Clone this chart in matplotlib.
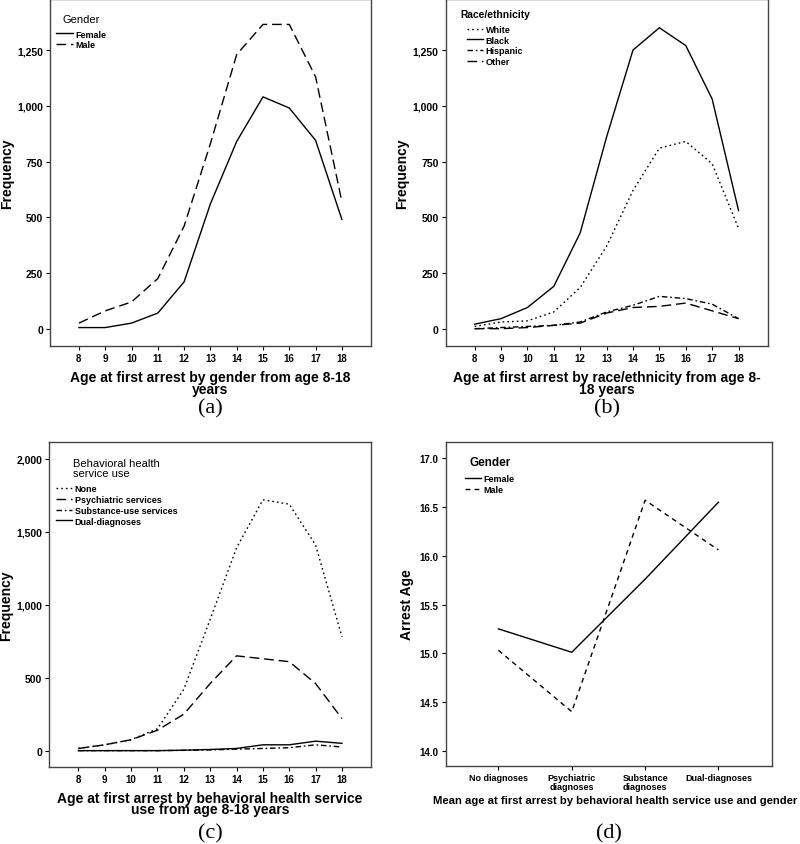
import numpy as np
import matplotlib.pyplot as plt
from matplotlib.ticker import FuncFormatter

# ---------------- DATA ----------------

ages = [8, 9, 10, 11, 12, 13, 14, 15, 16, 17, 18]

female = [5, 5, 25, 70, 210, 560, 840, 1040, 990, 845, 490]
male = [25, 80, 120, 225, 460, 830, 1230, 1365, 1365, 1130, 570]

white = [10, 30, 35, 75, 185, 370, 620, 810, 840, 740, 450]
black = [20, 45, 95, 190, 430, 860, 1250, 1350, 1270, 1030, 530]
hispanic = [0, 5, 10, 15, 30, 75, 105, 145, 135, 110, 45]
other = [0, 0, 5, 15, 25, 70, 95, 100, 115, 80, 45]

none_use = [15, 40, 75, 150, 420, 900, 1390, 1720, 1690, 1410, 780]
psych = [15, 40, 75, 140, 250, 460, 650, 630, 610, 460, 220]
substance = [0, 0, 0, 0, 2, 5, 10, 15, 20, 40, 25]
dual = [0, 0, 0, 0, 3, 8, 15, 40, 40, 65, 50]

diag_groups = ["No diagnoses", "Psychiatric\ndiagnoses", "Substance\ndiagnoses", "Dual-diagnoses"]
mean_female = [15.25, 15.01, 15.76, 16.55]
mean_male = [15.03, 14.40, 16.57, 16.06]

# ---------------- STYLE ----------------

plt.rcParams["font.family"] = ["Liberation Sans", "DejaVu Sans"]

DOT = (0, (1.2, 2.2))
DASH = (0, (7, 3.5))
DASHDOT = (0, (4, 2, 1.2, 2))
LW = 1.0

fig = plt.figure(figsize=(8, 8.45), dpi=100)

ax_a = fig.add_axes([0.0625, 0.589, 0.401, 0.411])
ax_b = fig.add_axes([0.557, 0.589, 0.4025, 0.411])
ax_c = fig.add_axes([0.0617, 0.0915, 0.402, 0.384])
ax_d = fig.add_axes([0.557, 0.092, 0.408, 0.384])

thousands = FuncFormatter(lambda v, p: f"{int(v):,}")


def style_axis(ax):
    for s in ax.spines.values():
        s.set_linewidth(1.0)
        s.set_color("#444444")
    ax.tick_params(axis="both", direction="out", length=3, width=0.8,
                   labelsize=7, pad=2)
    for lab in ax.get_xticklabels() + ax.get_yticklabels():
        lab.set_fontweight("bold")


def age_axis(ax, ymin, ymax, yticks):
    ax.set_xlim(6.9, 19.1)
    ax.set_ylim(ymin, ymax)
    ax.set_xticks(ages)
    ax.set_yticks(yticks)
    ax.yaxis.set_major_formatter(thousands)
    ax.set_ylabel("Frequency", fontsize=10, fontweight="bold")
    # keep the label clear of the figure edge (centre about 7 px in)
    width_px = ax.get_position().width * 800
    ax.yaxis.set_label_coords(-36 / width_px, 0.5)
    style_axis(ax)
    ax.tick_params(axis="y", labelsize=7.5)


def legend(ax, title, bold_title, anchor, title_fs=8, sep=4.3, fs=6.5):
    lg = ax.legend(loc="upper left", bbox_to_anchor=anchor, frameon=False,
                   title=title, fontsize=fs, handlelength=1.8,
                   handletextpad=0.3, labelspacing=0.2, borderpad=0.2,
                   alignment="center")
    lg.get_title().set_fontsize(title_fs)
    lg.get_title().set_linespacing(1.0)
    if bold_title:
        lg.get_title().set_fontweight("bold")
    for t in lg.get_texts():
        t.set_fontweight("bold")
    lg._legend_box.sep = sep
    return lg


# ---------------- (a) ----------------

ax_a.plot(ages, female, color="black", lw=LW, ls="-", label="Female")
ax_a.plot(ages, male, color="black", lw=LW, ls=DASH, label="Male")
age_axis(ax_a, -79, 1479, [0, 250, 500, 750, 1000, 1250])
legend(ax_a, "Gender", False, (0.0, 0.976))
ax_a.set_xlabel("Age at first arrest by gender from age 8-18\nyears",
                fontsize=10, fontweight="bold", linespacing=0.78, labelpad=5)

# ---------------- (b) ----------------

ax_b.plot(ages, white, color="black", lw=LW, ls=DOT, label="White")
ax_b.plot(ages, black, color="black", lw=LW, ls="-", label="Black")
ax_b.plot(ages, hispanic, color="black", lw=LW, ls=DASHDOT, label="Hispanic")
ax_b.plot(ages, other, color="black", lw=LW, ls=DASH, label="Other")
age_axis(ax_b, -79, 1479, [0, 250, 500, 750, 1000, 1250])
legend(ax_b, "Race/ethnicity", True, (0.0255, 0.989), title_fs=7.4, sep=4.0)
ax_b.set_xlabel("Age at first arrest by race/ethnicity from age 8-\n18 years",
                fontsize=10, fontweight="bold", linespacing=0.78, labelpad=5)

# ---------------- (c) ----------------

ax_c.plot(ages, none_use, color="black", lw=LW, ls=DOT, label="None")
ax_c.plot(ages, psych, color="black", lw=LW, ls=DASH, label="Psychiatric services")
ax_c.plot(ages, substance, color="black", lw=LW, ls=DASHDOT, label="Substance-use services")
ax_c.plot(ages, dual, color="black", lw=LW, ls="-", label="Dual-diagnoses")
age_axis(ax_c, -110, 2115, [0, 500, 1000, 1500, 2000])
legend(ax_c, "Behavioral health\nservice use", False, (0.0, 0.97))
ax_c.set_xlabel("Age at first arrest by behavioral health service\nuse from age 8-18 years",
                fontsize=10, fontweight="bold", linespacing=0.78, labelpad=5)

# ---------------- (d) ----------------

pos = np.arange(len(diag_groups))
ax_d.plot(pos, mean_female, color="black", lw=LW, ls="-", label="Female")
ax_d.plot(pos, mean_male, color="black", lw=LW, ls=(0, (3.5, 3)), label="Male")
ax_d.set_xlim(-0.72, 3.73)
ax_d.set_ylim(13.84, 17.17)
ax_d.set_xticks(pos)
ax_d.set_xticklabels(diag_groups)
ax_d.set_yticks([14.0, 14.5, 15.0, 15.5, 16.0, 16.5, 17.0])
ax_d.yaxis.set_major_formatter(FuncFormatter(lambda v, p: f"{v:.1f}"))
ax_d.set_ylabel("Arrest Age", fontsize=10, fontweight="bold", labelpad=4)
style_axis(ax_d)
ax_d.tick_params(axis="x", labelsize=6.5)
for lab in ax_d.get_xticklabels():
    lab.set_linespacing(0.9)
legend(ax_d, "Gender", True, (0.039, 0.975), title_fs=8.5, sep=4.5)
ax_d.set_xlabel("Mean age at first arrest by behavioral health service use and gender",
                fontsize=8.1, fontweight="bold", labelpad=3)
ax_d.xaxis.label.set_x(0.52)

# ---------------- PANEL LETTERS ----------------

for ax, letter in [(ax_a, "(a)"), (ax_b, "(b)"), (ax_c, "(c)"), (ax_d, "(d)")]:
    box = ax.get_position()
    cx = 0.5 * (box.x0 + box.x1)
    yy = 1 - 409 / 845 if ax in (ax_a, ax_b) else 1 - 834 / 845
    fig.text(cx, yy, letter, ha="center", va="center",
             fontsize=16, family=["Liberation Serif", "DejaVu Serif"])

plt.savefig("out.png", dpi=100)
